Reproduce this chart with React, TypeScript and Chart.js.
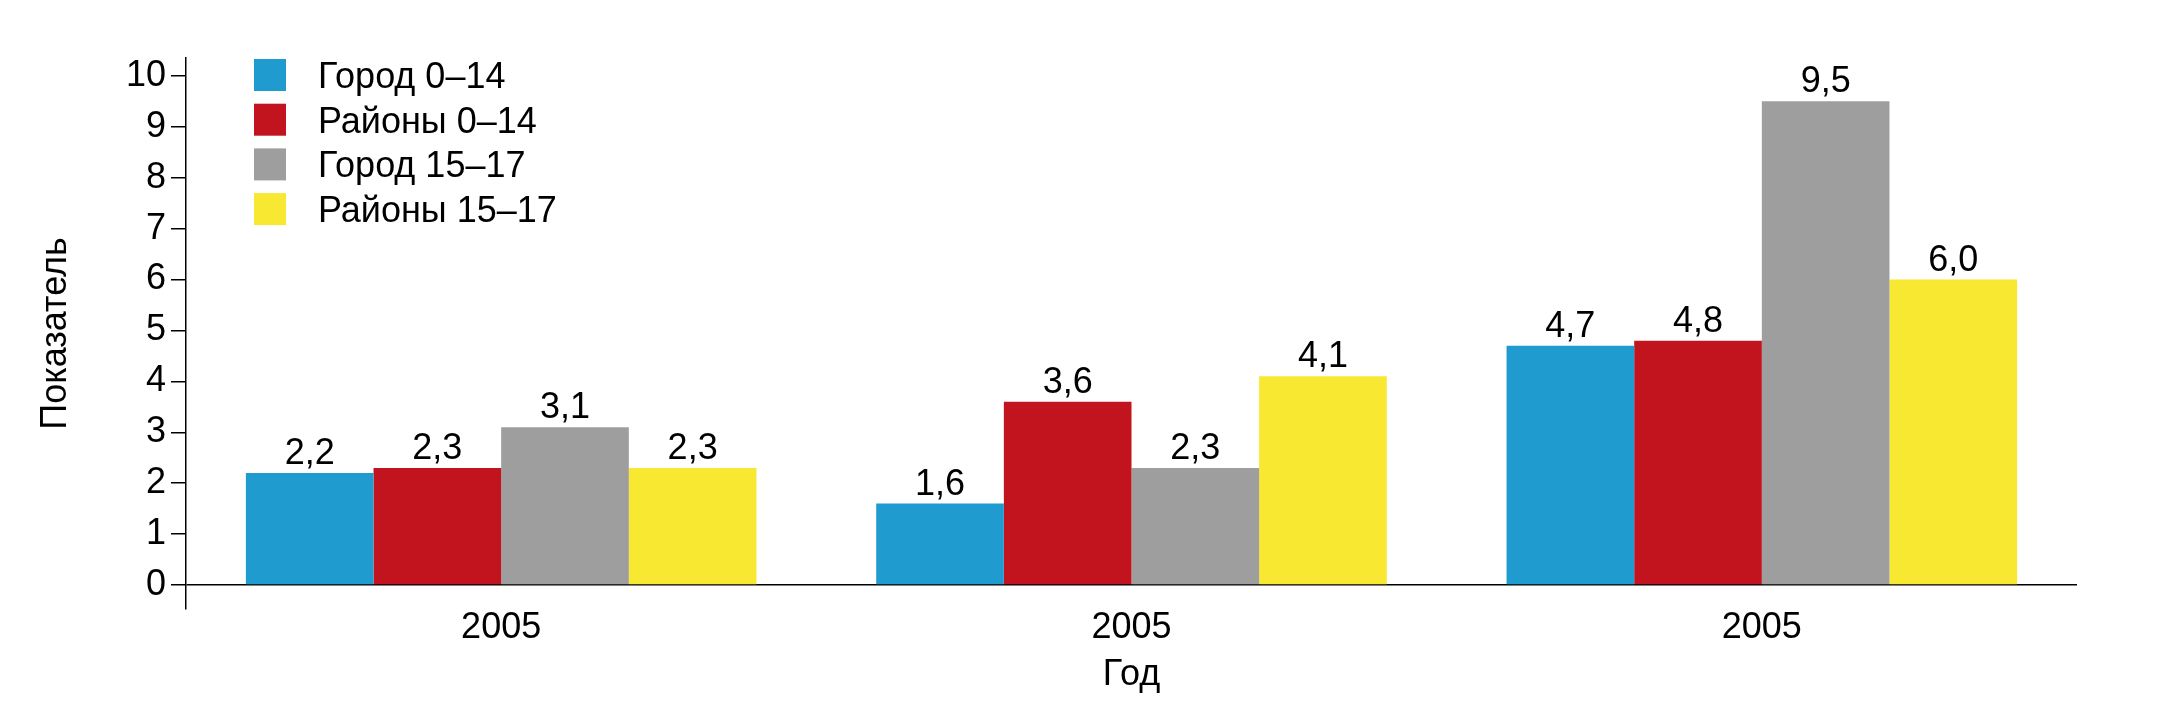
import { useEffect, useRef } from 'react';
import { Chart, registerables } from 'chart.js';

Chart.register(...registerables);

const categories = ['2005', '2005', '2005'];
const seriesNames = ['Город 0–14', 'Районы 0–14', 'Город 15–17', 'Районы 15–17'];
const gorod0to14 = [2.2, 1.6, 4.7];
const raiony0to14 = [2.3, 3.6, 4.8];
const gorod15to17 = [3.1, 2.3, 9.5];
const raiony15to17 = [2.3, 4.1, 6.0];
const yTicks = [0, 1, 2, 3, 4, 5, 6, 7, 8, 9, 10];
const colors = ['#1f9bcf', '#c1141f', '#9d9e9d', '#f8e832'];

const FONT = '"Liberation Sans", Arial, sans-serif';
const SIZE = 36;

// value above each bar, comma as decimal separator
const valueLabels = {
  id: 'valueLabels',
  afterDatasetsDraw(chart: any) {
    const { ctx } = chart;
    ctx.save();
    ctx.font = `${SIZE}px ${FONT}`;
    ctx.fillStyle = '#000';
    ctx.textAlign = 'center';
    ctx.textBaseline = 'alphabetic';
    chart.data.datasets.forEach((ds: any, i: number) => {
      chart.getDatasetMeta(i).data.forEach((bar: any, j: number) => {
        const v = ds.data[j] as number;
        ctx.fillText(v.toFixed(1).replace('.', ','), bar.x, bar.y - 9);
      });
    });
    ctx.restore();
  },
};

// legend sits inside the plot, top-left
const insideLegend = {
  id: 'insideLegend',
  afterDraw(chart: any) {
    const { ctx, chartArea } = chart;
    const x0 = chartArea.left + 68;
    const y0 = chartArea.top + 1;
    ctx.save();
    ctx.font = `${SIZE}px ${FONT}`;
    ctx.textAlign = 'left';
    ctx.textBaseline = 'alphabetic';
    chart.data.datasets.forEach((ds: any, i: number) => {
      const y = y0 + i * 44.7;
      ctx.fillStyle = ds.backgroundColor;
      ctx.fillRect(x0, y, 32, 32);
      ctx.fillStyle = '#000';
      ctx.fillText(ds.label, x0 + 64, y + 29);
    });
    ctx.restore();
  },
};

export default function App() {
  const canvasRef = useRef<HTMLCanvasElement>(null);
  const chartRef = useRef<Chart | null>(null);

  useEffect(() => {
    if (!canvasRef.current) return;
    if (chartRef.current) chartRef.current.destroy();

    const series = [gorod0to14, raiony0to14, gorod15to17, raiony15to17];

    chartRef.current = new Chart(canvasRef.current, {
      type: 'bar',
      data: {
        labels: categories,
        datasets: series.map((data, i) => ({
          label: seriesNames[i],
          data,
          backgroundColor: colors[i],
          borderWidth: 0,
          categoryPercentage: 0.81,
          barPercentage: 1,
        })),
      },
      options: {
        animation: false,
        responsive: true,
        maintainAspectRatio: false,
        layout: { padding: { top: 58, right: 91, bottom: 0, left: 0 } },
        font: { family: FONT },
        plugins: {
          legend: { display: false },
          tooltip: { enabled: false },
        },
        scales: {
          x: {
            grid: { display: false, drawTicks: false },
            border: { display: false },
            ticks: { color: '#000', font: { family: FONT, size: SIZE }, padding: -3, maxRotation: 0 },
            title: {
              display: true,
              text: 'Год',
              color: '#000',
              font: { family: FONT, size: SIZE },
              padding: { top: 0, bottom: 5 },
            },
            afterFit: (s: any) => {
              s.height = 93;
            },
          },
          y: {
            min: -0.47,
            max: 10.35,
            afterBuildTicks: (s: any) => {
              s.ticks = yTicks.map((value) => ({ value }));
            },
            grid: {
              color: (c: any) => (c.tick && c.tick.value === 0 ? '#000' : 'rgba(0,0,0,0)'),
              tickColor: '#000',
              tickLength: 15,
              lineWidth: 1.5,
            },
            border: { display: true, color: '#000', width: 1.5 },
            ticks: { color: '#000', font: { family: FONT, size: SIZE }, padding: 5 },
            title: {
              display: true,
              text: 'Показатель',
              color: '#000',
              font: { family: FONT, size: SIZE },
              padding: { top: 34, bottom: 0 },
            },
            afterFit: (s: any) => {
              s.width = 186;
            },
          },
        },
      } as any,
      plugins: [valueLabels, insideLegend],
    });

    return () => {
      if (chartRef.current) {
        chartRef.current.destroy();
        chartRef.current = null;
      }
    };
  }, []);

  return (
    <div style={{ position: 'absolute', left: 0, top: 0, width: 2168, height: 702, background: '#fff' }}>
      <canvas ref={canvasRef} />
    </div>
  );
}
